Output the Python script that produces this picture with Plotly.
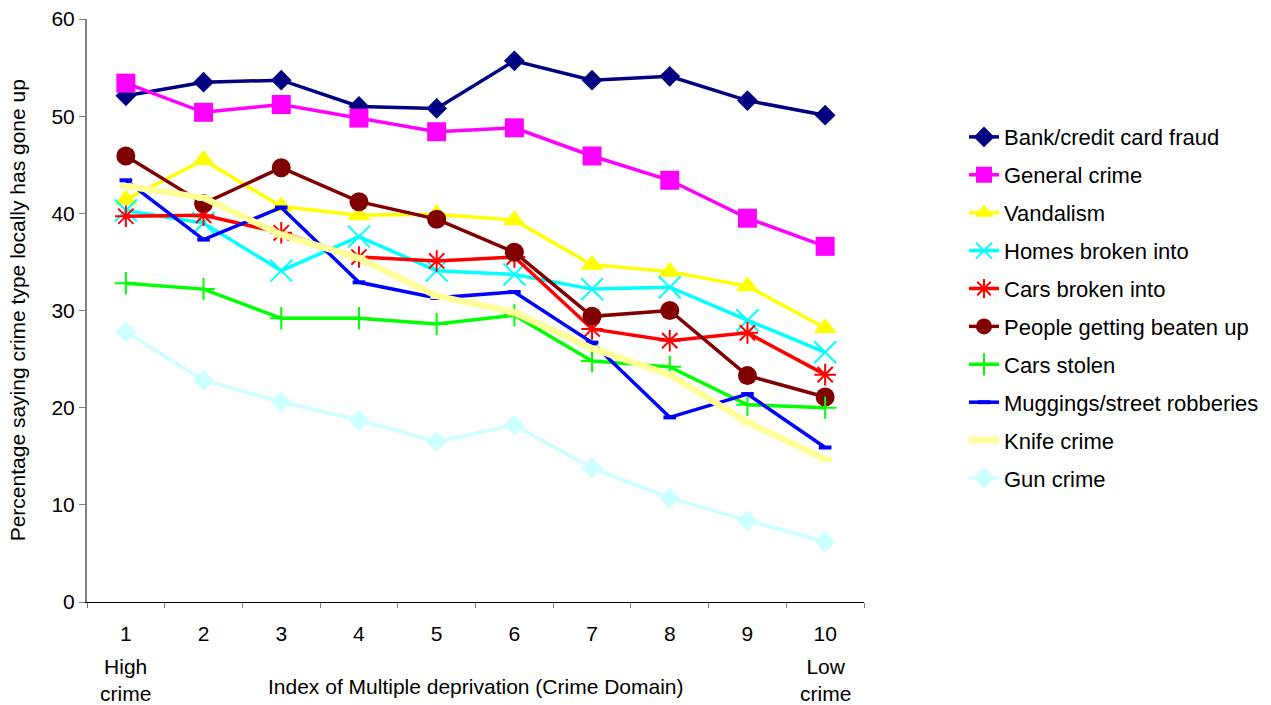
import plotly.graph_objects as go

x_labels = ["1", "2", "3", "4", "5", "6", "7", "8", "9", "10"]

series_names = [
    "Bank/credit card fraud", "General crime", "Vandalism", "Homes broken into",
    "Cars broken into", "People getting beaten up", "Cars stolen",
    "Muggings/street robberies", "Knife crime", "Gun crime",
]

bank_fraud = [52.1, 53.5, 53.7, 51.0, 50.8, 55.7, 53.7, 54.1, 51.6, 50.1]
general_crime = [53.4, 50.4, 51.2, 49.8, 48.4, 48.8, 45.9, 43.4, 39.5, 36.6]
vandalism = [41.4, 45.5, 40.7, 39.8, 39.9, 39.3, 34.7, 34.0, 32.5, 28.2]
homes_broken = [40.3, 39.0, 34.1, 37.6, 34.1, 33.7, 32.2, 32.4, 29.0, 25.7]
cars_broken = [39.7, 39.8, 38.0, 35.5, 35.1, 35.5, 28.1, 26.9, 27.7, 23.4]
beaten_up = [45.9, 41.0, 44.7, 41.2, 39.4, 36.0, 29.4, 30.0, 23.3, 21.1]
cars_stolen = [32.8, 32.2, 29.2, 29.2, 28.6, 29.5, 24.8, 24.2, 20.3, 20.0]
muggings = [43.4, 37.3, 40.6, 32.9, 31.3, 31.9, 26.7, 19.0, 21.4, 15.9]
knife_crime = [42.8, 41.6, 37.8, 35.4, 31.5, 29.8, 26.1, 23.4, 18.5, 14.7]
gun_crime = [27.8, 22.8, 20.6, 18.7, 16.5, 18.2, 13.8, 10.7, 8.4, 6.2]

values = [bank_fraud, general_crime, vandalism, homes_broken, cars_broken,
          beaten_up, cars_stolen, muggings, knife_crime, gun_crime]

styles = [
    dict(color="#000080", width=3.5, symbol="diamond", size=16, mlw=0),
    dict(color="#FF00FF", width=3.5, symbol="square", size=19, mlw=0),
    dict(color="#FFFF00", width=3.5, symbol="triangle-up", size=20, mlw=0),
    dict(color="#00FFFF", width=3.5, symbol="x-thin", size=22, mlw=2),
    dict(color="#FF0000", width=3.5, symbol="asterisk", size=18, mlw=2),
    dict(color="#800000", width=3.5, symbol="circle", size=19, mlw=0),
    dict(color="#00FF00", width=3.5, symbol="cross-thin", size=16, mlw=2),
    dict(color="#0000FF", width=3.5, symbol="line-ew", size=9, mlw=4),
    dict(color="#FFFF99", width=6.5, symbol="line-ew", size=9, mlw=6),
    dict(color="#CCFFFF", width=3.5, symbol="diamond", size=16, mlw=0),
]

FONT = "Liberation Sans, Arial, sans-serif"

fig = go.Figure()
for name, vals, st in zip(series_names, values, styles):
    fig.add_trace(go.Scatter(
        x=x_labels, y=vals, name=name, mode="lines+markers",
        legendgroup=name,
        line=dict(color=st["color"], width=st["width"]),
        marker=dict(symbol=st["symbol"], size=st["size"], color=st["color"],
                    line=dict(color=st["color"], width=st["mlw"])),
    ))

fig.update_layout(
    width=1271, height=705,
    margin=dict(l=87, r=407, t=19, b=103, autoexpand=False),
    paper_bgcolor="white", plot_bgcolor="white",
    font=dict(family=FONT, size=21, color="black"),
    showlegend=True,
    legend=dict(x=1.1287, xanchor="left", y=0.505, yanchor="middle",
                font=dict(family=FONT, size=22, color="black"),
                tracegroupgap=6.3, bgcolor="rgba(0,0,0,0)"),
    xaxis=dict(type="category", range=[-0.5, 9.5], tickson="boundaries",
               ticks="outside", ticklen=5, tickcolor="#808080", tickwidth=1,
               showline=True, linecolor="black", linewidth=1, automargin=False,
               showgrid=False, zeroline=False, ticklabelstandoff=13,
               tickfont=dict(family=FONT, size=21)),
    yaxis=dict(range=[0, 60], dtick=10, ticks="outside", ticklen=6,
               tickcolor="#808080", tickwidth=1, automargin=False,
               showline=True, linecolor="#808080", linewidth=2,
               showgrid=False, zeroline=False,
               tickfont=dict(family=FONT, size=21)),
)

fig.add_annotation(text="High<br>crime", x=0, y=0, xref="x", yref="paper",
                   yshift=-51, yanchor="top", showarrow=False,
                   font=dict(family=FONT, size=21))
fig.add_annotation(text="Low<br>crime", x=9, y=0, xref="x", yref="paper",
                   yshift=-51, yanchor="top", showarrow=False,
                   font=dict(family=FONT, size=21))
fig.add_annotation(text="Index of Multiple deprivation (Crime Domain)", x=0.5, y=0,
                   xref="paper", yref="paper", yshift=-84, yanchor="middle",
                   showarrow=False, font=dict(family=FONT, size=21))
fig.add_annotation(text="Percentage saying crime type locally has gone up",
                   x=-0.089, y=0.5, xref="paper", yref="paper", textangle=-90,
                   xanchor="center", yanchor="middle", showarrow=False,
                   font=dict(family=FONT, size=21))

fig.write_html("out.html")
